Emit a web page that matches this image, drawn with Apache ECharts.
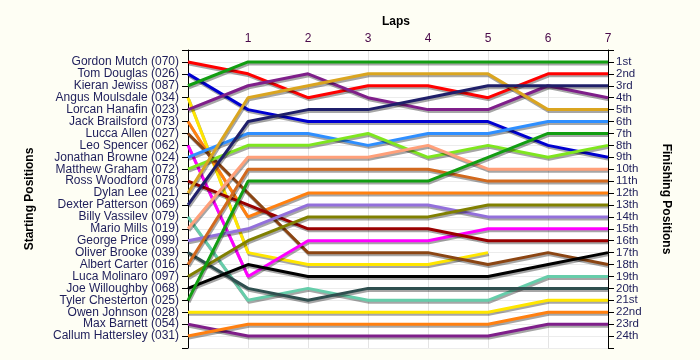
<!DOCTYPE html>
<html>
<head>
<meta charset="utf-8">
<script src="https://cdn.jsdelivr.net/npm/echarts@6/dist/echarts.min.js"></script>
<style>
html,body{margin:0;padding:0;background:#fefef4;}
#c{width:700px;height:360px;}
</style>
</head>
<body>
<div id="c"></div>
<script>
var drivers = ['Gordon Mutch (070)','Tom Douglas (026)','Kieran Jewiss (087)','Angus Moulsdale (034)','Lorcan Hanafin (023)','Jack Brailsford (073)','Lucca Allen (027)','Leo Spencer (062)','Jonathan Browne (024)','Matthew Graham (072)','Ross Woodford (078)','Dylan Lee (021)','Dexter Patterson (069)','Billy Vassilev (079)','Mario Mills (019)','George Price (099)','Oliver Brooke (039)','Albert Carter (016)','Luca Molinaro (097)','Joe Willoughby (068)','Tyler Chesterton (025)','Owen Johnson (028)','Max Barnett (054)','Callum Hattersley (031)'];
var finishLabels = ['1st','2nd','3rd','4th','5th','6th','7th','8th','9th','10th','11th','12th','13th','14th','15th','16th','17th','18th','19th','20th','21st','22nd','23rd','24th'];
var lapLabels = ['1','2','3','4','5','6','7'];

var gordon   = [1,2,4,3,3,4,2,2];
var tom      = [2,5,6,6,6,6,8,9];
var kieran   = [3,1,1,1,1,1,1,1];
var angus    = [4,17,18,18,18,17];
var lorcan   = [5,3,2,4,5,5,3,4];
var jack     = [6,14,12,12,12,12,12,12];
var lucca    = [7,12,17,17,17,18,17,18];
var leo      = [8,19,16,16,16,15,15,15];
var jonathan = [9,7,7,8,7,7,6,6];
var matthew  = [10,8,8,7,9,8,9,8];
var ross     = [11,13,15,15,15,16,16,16];
var dylan    = [12,4,3,2,2,2,5,5];
var dexter   = [13,6,5,5,4,3,3,3];
var billy    = [14,21,20,21,21,21,19,19];
var mario    = [15,9,9,9,8,10,10,10];
var george   = [16,15,13,13,13,14,14,14];
var oliver   = [17,20,21,20,20,20,20,20];
var albert   = [18,10,10,10,10,11,11,11];
var luca     = [19,16,14,14,14,13,13,13];
var joe      = [20,18,19,19,19,19,18,17];
var tyler    = [21,11,11,11,11,9,7,7];
var owen     = [22,22,22,22,22,22,21,21];
var max      = [23,24,24,24,24,24,23,23];
var callum   = [24,23,23,23,23,23,22,22];

var positions = [gordon,tom,kieran,angus,lorcan,jack,lucca,leo,jonathan,matthew,ross,dylan,dexter,billy,mario,george,oliver,albert,luca,joe,tyler,owen,max,callum];
var colors = ['#ff0000','#0000d0','#129e12','#ffe600','#7f1f8a','#ff8010','#8b4513','#ff00ff','#2f8fff','#7fe61f','#990000','#daa520','#1f1f6a','#66cdaa','#ffa07a','#9370db','#2f4f4f','#d2691e','#808000','#000000','#129e12','#ffe600','#7f1f8a','#ff8010'];

var series = positions.map(function(p, i){
  return {
    type:'line', name:drivers[i], symbol:'none', animation:false,
    data: p.map(function(v, lap){ return [lap, v]; }),
    lineStyle:{width:3, color:colors[i], shadowColor:'rgba(0,0,0,0.35)', shadowOffsetX:1, shadowOffsetY:2, shadowBlur:0}
  };
});

var yCommon = {
  type:'value', min:0, max:25, interval:1, inverse:true,
  axisLine:{show:true, lineStyle:{color:'#000', width:1}},
  axisTick:{show:true, length:6, lineStyle:{color:'#000'}},
  splitLine:{show:true, lineStyle:{color:'#ececec'}},
  nameLocation:'middle',
  nameTextStyle:{fontFamily:'Liberation Sans', fontSize:12, fontWeight:'bold', color:'#000'}
};

var chart = echarts.init(document.getElementById('c'), null, {renderer:'canvas'});
chart.setOption({
  backgroundColor:'#fefef4',
  animation:false,
  grid:{left:188, right:92, top:50, bottom:12, show:true, backgroundColor:'#ffffff', borderWidth:0},
  title:{text:'Laps', left:377, top:11, textStyle:{fontFamily:'Liberation Sans', fontSize:12, fontWeight:'bold', color:'#000'}},
  xAxis:{
    type:'value', min:0, max:7, interval:1, position:'top',
    axisLine:{show:true, onZero:false, lineStyle:{color:'#000'}},
    axisTick:{show:false},
    splitLine:{show:true, lineStyle:{color:'#e4e4e4'}},
    axisLabel:{margin:5, fontFamily:'Liberation Sans', fontSize:12, color:'#4a0a4a',
      formatter:function(v){ return v>=1 && v<=7 ? lapLabels[v-1] : ''; }}
  },
  yAxis:[
    Object.assign({}, yCommon, {position:'left', name:'Starting Positions', nameGap:152, nameRotate:90,
      axisLabel:{margin:9, fontFamily:'Liberation Sans', fontSize:12, color:'#1e1e5a',
        formatter:function(v){ return v>=1 && v<=24 ? drivers[v-1] : ''; }}}),
    Object.assign({}, yCommon, {position:'right', name:'Finishing Positions', nameGap:52, nameRotate:-90,
      splitLine:{show:false},
      axisLabel:{margin:8, fontFamily:'Liberation Sans', fontSize:11.5, color:'#1e1e5a',
        formatter:function(v){ return v>=1 && v<=24 ? finishLabels[v-1] : ''; }}})
  ],
  series: series
});
</script>
</body>
</html>
